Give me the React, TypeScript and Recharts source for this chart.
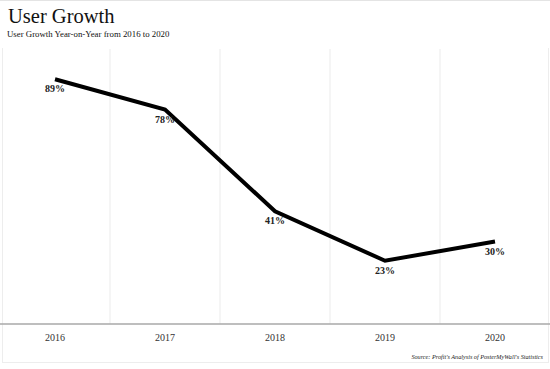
import { LineChart, Line, XAxis, YAxis, CartesianGrid, LabelList } from "recharts";

const years = ["2016", "2017", "2018", "2019", "2020"];
const growth = [89, 78, 41, 23, 30];

const data = years.map((year, i) => ({ year, growth: growth[i] }));

const serif = '"Liberation Serif", "DejaVu Serif", serif';

export default function App() {
  return (
    <div
      style={{
        position: "fixed",
        left: 0,
        top: 0,
        width: 550,
        height: 369,
        background: "#fff",
        fontFamily: serif,
        overflow: "hidden",
      }}
    >
      <div style={{ position: "absolute", left: 0, top: 0, width: 550, height: 1, background: "#e4e4e4" }} />
      <div style={{ position: "absolute", left: 8, top: 2, fontSize: 20.5, color: "#111", lineHeight: "28px" }}>
        User Growth
      </div>
      <div style={{ position: "absolute", left: 7, top: 28, fontSize: 8.8, color: "#111", lineHeight: "12px" }}>
        User Growth Year-on-Year from 2016 to 2020
      </div>
      <div
        style={{
          position: "absolute",
          left: 2,
          top: 48,
          width: 545,
          height: 314,
          borderLeft: "1px solid #ededed",
          borderRight: "1px solid #ededed",
          borderBottom: "1px solid #ededed",
        }}
      />
      <div style={{ position: "absolute", left: 0, top: 0 }}>
        <LineChart width={550} height={369} data={data} margin={{ top: 49, right: 0, left: 0, bottom: 25 }}>
          <CartesianGrid
            horizontal={false}
            stroke="#ebebeb"
            verticalCoordinatesGenerator={({ offset }: any) =>
              [1, 2, 3, 4].map((i) => offset.left + (i * offset.width) / years.length)
            }
          />
          <XAxis
            dataKey="year"
            height={20}
            tickLine={false}
            axisLine={{ stroke: "#a8a8a8", strokeWidth: 1.5 }}
            tick={{ fill: "#333", fontSize: 10, fontFamily: serif }}
            tickMargin={4}
            padding={{ left: 55, right: 55 }}
          />
          <YAxis hide domain={[0, 100]} />
          <Line
            dataKey="growth"
            stroke="#000"
            strokeWidth={4}
            dot={false}
            isAnimationActive={false}
          >
            <LabelList
              dataKey="growth"
              position="bottom"
              offset={6}
              formatter={(v: any) => `${v}%`}
              style={{ fill: "#222", fontSize: 10, fontFamily: serif, fontWeight: 600 }}
            />
          </Line>
        </LineChart>
      </div>
      <div
        style={{
          position: "absolute",
          right: 7,
          top: 352,
          fontSize: 6.2,
          fontStyle: "italic",
          color: "#222",
          lineHeight: "10px",
        }}
      >
        Source: Profit's Analysis of PosterMyWall's Statistics
      </div>
    </div>
  );
}
